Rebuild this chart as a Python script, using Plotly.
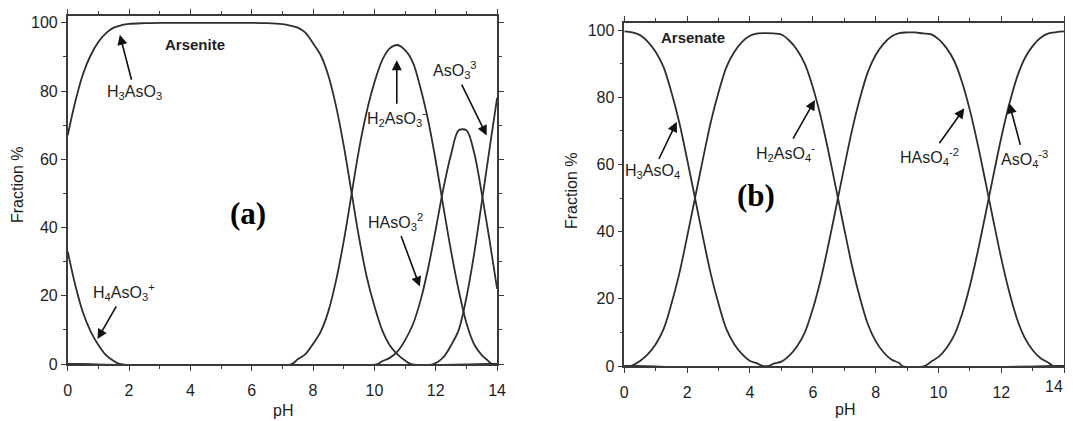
import plotly.graph_objects as go

# ---------------- Arsenite (panel a) ----------------
ph_h4aso3 = [0, 0.25, 0.5, 0.75, 1.0, 1.25, 1.5, 1.7, 14]
h4aso3 = [33, 23, 15, 9.5, 5.6, 2.6, 0.9, 0, 0]

ph_h3aso3 = [0, 0.25, 0.5, 0.75, 1.0, 1.25, 1.5, 1.75, 2.0, 2.5, 3, 4, 5, 6, 6.5, 7.0, 7.25,
             7.5, 7.75, 8.0, 8.25, 8.5, 8.75, 9.0, 9.25, 9.5, 9.75, 10.0, 10.25, 10.5, 10.75,
             11.0, 11.2, 14]
h3aso3 = [67, 77, 85, 90.5, 94.4, 97, 98.6, 99.3, 99.7, 99.9, 100, 100, 100, 100, 99.9, 99.6, 99.2,
          98.6, 97.1, 94, 90.5, 84.5, 75.5, 64, 50.5, 37, 25.5, 17, 10, 5.5, 2.8,
          1.0, 0, 0]

ph_h2aso3 = [0, 7.3, 7.5, 7.75, 8.0, 8.25, 8.5, 8.75, 9.0, 9.25, 9.5, 9.75, 10.0, 10.25, 10.5,
             10.75, 11.0, 11.25, 11.5, 11.75, 12.0, 12.25, 12.5, 12.75, 13.0, 13.25, 13.5, 13.7,
             13.83, 14]
h2aso3 = [0, 0, 1.4, 2.9, 5.9, 9.5, 15.5, 24.5, 36, 49.5, 63, 74, 82.5, 89, 92.5,
          93.5, 92, 88.5, 81, 71.5, 59.5, 46, 33, 21.5, 12, 5.8, 2.6, 1.0,
          0, 0]

ph_haso3 = [0, 10.1, 10.25, 10.5, 10.75, 11.0, 11.25, 11.5, 11.75, 12.0, 12.25, 12.5, 12.75,
            13.0, 13.25, 13.5, 13.75, 14]
haso3 = [0, 0, 0.8, 1.8, 3.6, 7, 11.5, 18.5, 28, 39.5, 51.5, 61.5, 68.5,
         68.5, 62, 50, 36.5, 22]

ph_aso3 = [0, 11.92, 12.25, 12.5, 12.75, 13.0, 13.25, 13.5, 13.75, 14]
aso3 = [0, 0, 2, 5.5, 10, 19.5, 32.2, 47.4, 62.8, 78]

# ---------------- Arsenate (panel b) ----------------
ph_h3aso4 = [0, 0.25, 0.5, 0.75, 1.0, 1.25, 1.5, 1.75, 2.0, 2.25, 2.5, 2.75, 3.0, 3.25, 3.5,
             3.75, 4.0, 4.25, 4.4, 14]
h3aso4 = [99.6, 99.3, 98.5, 96.5, 93.5, 89, 81.5, 72.5, 61.5, 50, 38.5, 27.5, 18.5, 11, 6.5,
          3.5, 1.5, 0.7, 0, 0]

ph_h2aso4 = [0, 0.2, 0.5, 0.75, 1.0, 1.25, 1.5, 1.75, 2.0, 2.25, 2.5, 2.75, 3.0, 3.25, 3.5,
             3.75, 4.0, 4.25, 4.5, 4.75, 5.0, 5.25, 5.5, 5.75, 6.0, 6.25, 6.5, 6.75, 7.0,
             7.25, 7.5, 7.75, 8.0, 8.25, 8.5, 8.75, 8.85, 14]
h2aso4 = [0, 0, 1.5, 3.5, 6.5, 11, 18.5, 27.5, 38.5, 50, 61.5, 72.5, 81.5, 89, 93.5,
          96.5, 98.3, 99, 99.1, 99, 98.7, 96.9, 94.1, 89.9, 83, 74.3, 63.7, 52.3, 40.8,
          29.7, 20.3, 12.5, 7.4, 4.1, 1.9, 0.9, 0, 0]

ph_haso4 = [0, 4.6, 4.75, 5.0, 5.25, 5.5, 5.75, 6.0, 6.25, 6.5, 6.75, 7.0, 7.25, 7.5, 7.75,
            8.0, 8.25, 8.5, 8.75, 9.0, 9.25, 9.5, 9.75, 10.0, 10.25, 10.5, 10.75, 11.0,
            11.25, 11.5, 11.75, 12.0, 12.25, 12.5, 12.75, 13.0, 13.25, 13.5, 13.65, 14]
haso4 = [0, 0, 0.7, 1.3, 3.1, 5.9, 10.1, 17, 25.7, 36.3, 47.7, 59.2, 70.3, 79.7, 87.5,
         92.6, 95.9, 98.1, 99.1, 99.3, 99.3, 99, 98.8, 97.3, 94.7, 90.8, 84.5, 76.1,
         65.9, 54.6, 43.1, 31.9, 22.1, 14, 8.3, 4.7, 2.3, 1.0, 0, 0]

ph_aso4 = [0, 9.55, 9.75, 10.0, 10.25, 10.5, 10.75, 11.0, 11.25, 11.5, 11.75, 12.0, 12.25,
           12.5, 12.75, 13.0, 13.25, 13.5, 13.75, 14]
aso4 = [0, 0, 1.2, 2.7, 5.3, 9.2, 15.5, 23.9, 34.1, 45.4, 56.9, 68.1, 77.9,
        86, 91.7, 95.3, 97.7, 99, 99.4, 99.6]

x_ticks = [0, 2, 4, 6, 8, 10, 12, 14]
y_ticks = [0, 20, 40, 60, 80, 100]

LINE_COLOR = '#2e2e2e'
TXT = '#1e1e1e'
SANS = 'Liberation Sans, Arial, sans-serif'
SERIF = 'Liberation Serif, Times New Roman, serif'

# the page body has an 8 px margin on each side: size the figure to fit inside it
OFF = 8
W, H = 1073 - 2 * OFF, 421 - OFF

def px(x):
    return (x - OFF) / W

def py(y):
    return 1 - (y - OFF) / H

fig = go.Figure()

def add_curve(x, y, xa, ya):
    fig.add_trace(go.Scatter(x=x, y=y, mode='lines', xaxis=xa, yaxis=ya,
                             line=dict(color=LINE_COLOR, width=1.8, shape='spline', smoothing=0.9),
                             showlegend=False, hoverinfo='skip', cliponaxis=True))

for xs, ys in [(ph_h4aso3, h4aso3), (ph_h3aso3, h3aso3), (ph_h2aso3, h2aso3),
               (ph_haso3, haso3), (ph_aso3, aso3)]:
    add_curve(xs, ys, 'x', 'y')
for xs, ys in [(ph_h3aso4, h3aso4), (ph_h2aso4, h2aso4), (ph_haso4, haso4), (ph_aso4, aso4)]:
    add_curve(xs, ys, 'x2', 'y2')

TICKFONT = dict(family=SANS, size=16, color=TXT)

def axis_style(**kw):
    d = dict(showline=True, linecolor='#3a3a3a', linewidth=1.5, mirror='ticks',
             ticks='outside', ticklen=5, tickwidth=1.2, tickcolor='#3a3a3a',
             showgrid=False, zeroline=False, automargin=False,
             ticklabeloverflow='allow', tickfont=TICKFONT)
    d.update(kw)
    return d

MINOR_X = dict(dtick=1, tick0=0, ticks='outside', ticklen=3, tickcolor='#3a3a3a')
MINOR_Y = dict(dtick=10, tick0=0, ticks='outside', ticklen=3, tickcolor='#3a3a3a')

# right panel: last label is drawn right-aligned at the axis end so it stays on the page
x2_text = [str(v) if v != x_ticks[-1] else '' for v in x_ticks]

fig.update_layout(
    width=W, height=H, margin=dict(l=0, r=0, t=0, b=0, autoexpand=False),
    paper_bgcolor='white', plot_bgcolor='white', showlegend=False,
    xaxis=axis_style(domain=[px(67.7), px(497.1)], range=[0, 14], anchor='y',
                     tickvals=x_ticks, ticklabelstandoff=6, minor=MINOR_X),
    yaxis=axis_style(domain=[py(364), py(16)], range=[0, 102], anchor='x',
                     tickvals=y_ticks, minor=MINOR_Y),
    xaxis2=axis_style(domain=[px(624.3), px(1064.2)], range=[0, 14], anchor='y2',
                      tickvals=x_ticks, ticktext=x2_text, ticklabelstandoff=6, minor=MINOR_X),
    yaxis2=axis_style(domain=[py(366), py(22.7)], range=[0, 102.2], anchor='x2',
                      tickvals=y_ticks, minor=MINOR_Y),
)

ann = []

def text_at(xc, yc, text, font, angle=0):
    ann.append(dict(x=px(xc), y=py(yc), xref='paper', yref='paper', text=text,
                    textangle=angle, showarrow=False, xanchor='center', yanchor='middle',
                    font=font))

# axis titles
for xc, yc in [(17, 185), (572, 191)]:
    text_at(xc, yc, 'Fraction %', dict(family=SANS, size=16, color=TXT), angle=-90)
for xc, yc in [(282.5, 410), (845, 409)]:
    text_at(xc, yc, 'pH', dict(family=SANS, size=16, color=TXT))
# panel titles and labels
text_at(195, 44, '<b>Arsenite</b>', dict(family=SANS, size=15, color=TXT))
text_at(693, 38, '<b>Arsenate</b>', dict(family=SANS, size=15, color=TXT))
text_at(248, 213, '<b>(a)</b>', dict(family=SERIF, size=31, color='black'))
text_at(756, 195, '<b>(b)</b>', dict(family=SERIF, size=31, color='black'))

# last tick label of panel (b)
ann.append(dict(x=x_ticks[-1], y=0, xref='x2', yref='y2', text=str(x_ticks[-1]),
                showarrow=False, xanchor='right', yanchor='middle', xshift=1, yshift=-20,
                font=TICKFONT))

def arrow(text, x, y, ax, ay, xr, yr):
    return dict(x=x, y=y, xref=xr, yref=yr, ax=ax, ay=ay, axref='pixel', ayref='pixel',
                text=text, showarrow=True, arrowhead=2, arrowsize=1.25, arrowwidth=1.6,
                arrowcolor='#111111', startstandoff=2,
                font=dict(family=SANS, size=16, color=TXT))

ann += [
    arrow('H<sub>3</sub>AsO<sub>3</sub>', 1.7, 96.5, 15, 58, 'x', 'y'),
    arrow('H<sub>4</sub>AsO<sub>3</sub><sup>+</sup>', 0.97, 7.3, 27, -47, 'x', 'y'),
    arrow('H<sub>2</sub>AsO<sub>3</sub><sup>-</sup>', 10.73, 89, 0, 58, 'x', 'y'),
    arrow('HAsO<sub>3</sub><sup>2</sup>', 11.48, 22.7, -24, -65, 'x', 'y'),
    arrow('AsO<sub>3</sub><sup>3</sup>', 13.66, 67, -32, -65, 'x', 'y'),
    arrow('H<sub>3</sub>AsO<sub>4</sub>', 1.67, 72.7, -24, 50, 'x2', 'y2'),
    arrow('H<sub>2</sub>AsO<sub>4</sub><sup>-</sup>', 6.07, 79.2, -30, 53, 'x2', 'y2'),
    arrow('HAsO<sub>4</sub><sup>-2</sup>', 10.82, 76.7, -35, 49, 'x2', 'y2'),
    arrow('AsO<sub>4</sub><sup>-3</sup>', 12.25, 78.2, 15, 56, 'x2', 'y2'),
]
fig.update_layout(annotations=ann)

fig.write_html('out.html')
